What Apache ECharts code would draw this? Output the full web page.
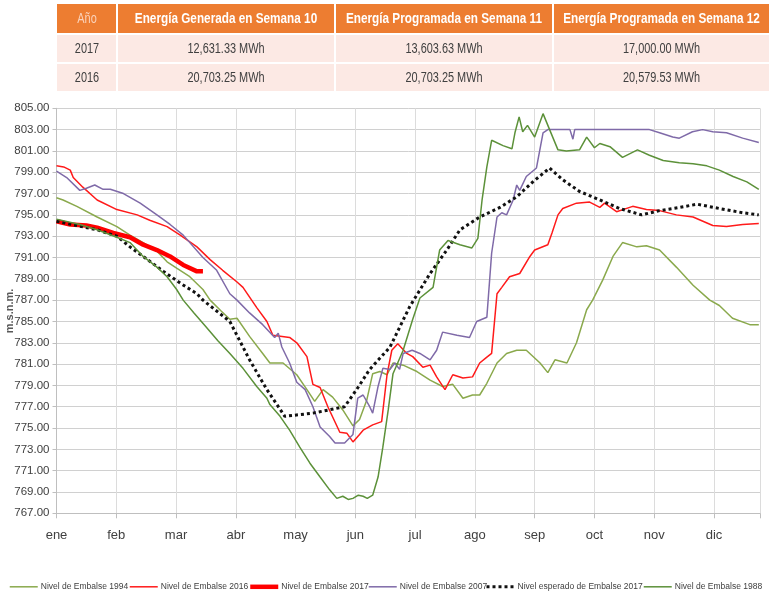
<!DOCTYPE html>
<html>
<head>
<meta charset="utf-8">
<script src="https://cdn.jsdelivr.net/npm/echarts@6/dist/echarts.min.js"></script>
<style>
  html, body { margin: 0; padding: 0; background: #fff; }
  #chart { width: 770px; height: 600px; }
</style>
</head>
<body>
<div id="chart"></div>
<script>
// meses del eje x (0 = 1 de enero)
const months = ['ene', 'feb', 'mar', 'abr', 'may', 'jun', 'jul', 'ago', 'sep', 'oct', 'nov', 'dic'];

// tabla de energia
const tableHeader = ['Año', 'Energía Generada en Semana 10', 'Energía Programada en Semana 11', 'Energía Programada en Semana 12'];
const tableRows = [
  ['2017', '12,631.33 MWh', '13,603.63 MWh', '17,000.00 MWh'],
  ['2016', '20,703.25 MWh', '20,703.25 MWh', '20,579.53 MWh']
];

// niveles de embalse [mes, m.s.n.m.]
const nivel1994 = [[0,796.6],[0.11,796.4],[0.34,795.8],[0.68,794.8],[1.01,793.9],[1.23,793.1],[1.45,792.4],[1.68,791.6],[1.85,790.6],[2.01,790.0],[2.23,789.2],[2.45,788.0],[2.57,787.0],[2.75,786.0],[2.9,785.2],[3.02,785.3],[3.23,783.6],[3.45,782.0],[3.57,781.1],[3.79,781.1],[4.02,780.0],[4.19,778.6],[4.32,777.5],[4.46,778.6],[4.62,777.9],[4.79,776.7],[4.96,775.2],[5.07,775.8],[5.19,777.6],[5.29,780.1],[5.41,780.3],[5.53,780.0],[5.63,781.1],[5.8,780.9],[6.03,780.3],[6.25,779.5],[6.46,778.9],[6.63,779.1],[6.8,777.8],[6.96,778.1],[7.08,778.1],[7.2,779.2],[7.37,781.1],[7.53,782.0],[7.7,782.3],[7.86,782.3],[8.09,781.1],[8.22,780.2],[8.34,781.4],[8.54,781.1],[8.7,783.0],[8.87,786.1],[8.97,787.0],[9.14,788.9],[9.31,791.1],[9.47,792.4],[9.71,792.0],[9.87,792.1],[10.09,791.7],[10.37,790.1],[10.65,788.4],[10.93,787.0],[11.09,786.5],[11.31,785.3],[11.6,784.7],[11.75,784.7]];
const nivel2016 = [[0,799.6],[0.12,799.5],[0.23,799.2],[0.28,798.5],[0.44,797.6],[0.68,796.4],[1.01,795.5],[1.35,795.0],[1.56,794.5],[1.85,793.9],[2.07,793.1],[2.35,792.0],[2.57,790.8],[2.78,789.8],[3.02,788.7],[3.12,788.2],[3.35,786.3],[3.52,785.0],[3.62,783.7],[3.9,783.5],[4.02,783.0],[4.19,781.7],[4.29,779.1],[4.41,778.8],[4.54,777.0],[4.74,774.6],[4.86,774.5],[4.96,773.7],[5.07,774.4],[5.13,774.8],[5.29,775.3],[5.44,775.6],[5.53,780.0],[5.61,782.3],[5.71,782.9],[5.86,782.0],[5.96,781.7],[6.13,780.7],[6.25,780.9],[6.36,779.8],[6.5,778.6],[6.63,780.0],[6.8,779.7],[6.96,779.8],[7.08,781.1],[7.19,781.6],[7.28,782.0],[7.37,787.6],[7.45,788.2],[7.58,789.2],[7.75,789.5],[7.92,791.1],[8.0,791.7],[8.22,792.2],[8.29,793.3],[8.39,795.0],[8.47,795.6],[8.7,796.1],[8.92,796.2],[9.09,795.7],[9.17,796.1],[9.37,795.3],[9.64,795.8],[9.87,795.5],[10.09,795.4],[10.37,795.0],[10.65,794.8],[10.98,794.0],[11.21,793.9],[11.48,794.1],[11.75,794.2]];
const nivel2017 = [[0,794.4],[0.23,794.1],[0.5,794.0],[0.68,793.8],[0.95,793.3],[1.23,792.9],[1.45,792.2],[1.68,791.7],[1.9,791.1],[2.12,790.3],[2.35,789.7],[2.45,789.7]];
const nivel2007 = [[0,799.1],[0.17,798.5],[0.39,797.3],[0.5,797.5],[0.64,797.8],[0.78,797.4],[0.9,797.4],[1.12,797.0],[1.4,796.1],[1.68,795.0],[1.9,794.1],[2.12,793.1],[2.45,791.0],[2.68,789.8],[2.9,787.6],[3.02,787.0],[3.23,785.8],[3.45,784.7],[3.65,783.5],[3.71,783.9],[3.77,782.6],[3.9,781.1],[4.02,779.3],[4.16,778.6],[4.29,777.0],[4.41,775.1],[4.57,774.2],[4.66,773.6],[4.82,773.6],[4.96,774.4],[5.04,777.8],[5.13,778.1],[5.24,777.0],[5.29,776.4],[5.38,778.9],[5.46,780.6],[5.58,780.5],[5.66,781.1],[5.74,780.5],[5.8,782.0],[5.95,782.3],[6.08,782.0],[6.25,781.4],[6.36,782.3],[6.46,784.0],[6.7,783.7],[6.91,783.5],[7.03,785.0],[7.2,785.4],[7.28,791.4],[7.37,794.8],[7.45,795.2],[7.53,795.0],[7.64,796.4],[7.7,797.8],[7.75,797.3],[7.86,798.6],[8.03,799.4],[8.14,802.7],[8.22,803.0],[8.59,803.0],[8.64,802.1],[8.67,803.0],[9.26,803.0],[9.92,803.0],[10.09,802.7],[10.31,802.3],[10.42,802.2],[10.64,802.8],[10.81,803.0],[10.98,802.8],[11.21,802.7],[11.48,802.2],[11.75,801.8]];
const esperado2017 = [[0,794.4],[0.68,793.6],[1.01,793.0],[1.23,792.0],[1.45,791.1],[1.79,789.7],[2.07,788.6],[2.35,787.6],[2.45,787.0],[2.9,785.0],[3.23,781.4],[3.52,778.6],[3.82,776.1],[4.29,776.4],[4.82,777.0],[5.02,778.6],[5.24,780.5],[5.58,782.6],[5.91,786.4],[6.25,789.5],[6.53,791.7],[6.75,793.6],[7.08,794.8],[7.42,795.7],[7.7,796.7],[7.97,798.1],[8.25,799.4],[8.47,798.3],[8.75,797.2],[9.09,796.4],[9.42,795.6],[9.79,795.0],[10.09,795.4],[10.42,795.7],[10.72,796.0],[11.09,795.6],[11.48,795.2],[11.75,795.0]];
const nivel1988 = [[0,794.6],[0.39,794.1],[0.68,793.6],[1.01,792.9],[1.23,792.4],[1.45,791.1],[1.68,790.1],[1.85,789.2],[2.01,788.0],[2.12,787.0],[2.3,785.8],[2.5,784.5],[2.7,783.2],[2.9,782.0],[3.12,780.6],[3.35,778.9],[3.52,777.8],[3.57,777.2],[3.74,776.1],[3.9,774.8],[4.07,773.2],[4.24,771.7],[4.41,770.4],[4.57,769.2],[4.69,768.4],[4.79,768.6],[4.88,768.3],[4.96,768.4],[5.05,768.7],[5.13,768.6],[5.2,768.4],[5.29,768.7],[5.38,770.4],[5.46,773.2],[5.55,776.7],[5.63,780.1],[5.8,782.3],[5.96,785.2],[6.08,787.2],[6.3,788.2],[6.41,791.7],[6.55,792.6],[6.75,792.2],[6.95,791.9],[7.05,792.8],[7.12,796.4],[7.2,799.5],[7.28,802.0],[7.47,801.5],[7.62,801.2],[7.67,802.7],[7.74,804.2],[7.8,802.8],[7.88,803.4],[8.0,802.3],[8.14,804.5],[8.25,803.0],[8.39,801.1],[8.53,801.0],[8.75,801.1],[8.87,802.3],[9.0,801.3],[9.09,801.7],[9.26,801.4],[9.47,800.4],[9.72,801.1],[9.92,800.6],[10.15,800.1],[10.42,799.9],[10.65,799.8],[10.88,799.6],[11.09,799.2],[11.32,798.6],[11.55,798.1],[11.75,797.4]];

const font = "'Liberation Sans', Arial, sans-serif";

// tabla dibujada como graphic (texto condensado con scaleX)
const colX = [57, 117, 335, 553, 770];
const rowY = [4, 35, 64, 93];
const tableGraphic = [];
for (let r = 0; r < 3; r++) {
  for (let c = 0; c < 4; c++) {
    const x0 = colX[c] + (c > 0 ? 1 : 0);
    const y0 = rowY[r];
    const w = colX[c + 1] - x0 - 1;
    const h = rowY[r + 1] - y0 - 2;
    tableGraphic.push({
      type: 'rect', silent: true,
      shape: {x: x0, y: y0, width: w, height: h},
      style: {fill: r === 0 ? '#ED7D31' : '#FCE9E4'}
    });
    const txt = r === 0 ? tableHeader[c] : tableRows[r - 1][c];
    const bold = r === 0 && c > 0;
    tableGraphic.push({
      type: 'text', silent: true,
      x: (colX[c] + colX[c + 1]) / 2, y: y0 + h / 2 + 1,
      scaleX: bold ? 0.84 : 0.78,
      style: {
        text: txt, align: 'center', verticalAlign: 'middle',
        font: (bold ? 'bold ' : '') + '14px ' + font,
        fill: r === 0 ? (c === 0 ? '#FAD3BC' : '#ffffff') : '#404040'
      }
    });
  }
}
// titulo del eje y
tableGraphic.push({
  type: 'text', silent: true,
  x: 10, y: 311, rotation: Math.PI / 2,
  style: {
    text: 'm.s.n.m.', align: 'center', verticalAlign: 'middle',
    font: 'bold 11px ' + font, fill: '#595959'
  }
});

const chart = echarts.init(document.getElementById('chart'));

const legendPos = [9, 129, 248, 368, 485, 643];
const names = ['Nivel de Embalse 1994', 'Nivel de Embalse 2016', 'Nivel de Embalse 2017', 'Nivel de Embalse 2007', 'Nivel esperado de Embalse 2017', 'Nivel de Embalse 1988'];
const legendWidth = [1.5, 1.5, 4.5, 1.5, 3, 1.5];

const mkLine = (name, data, color, width, type) => ({
  name: name,
  type: 'line',
  data: data,
  symbol: 'none',
  showSymbol: false,
  smooth: false,
  lineStyle: {color: color, width: width, type: type || 'solid', cap: 'butt'},
  itemStyle: {color: color}
});

const option = {
  animation: false,
  backgroundColor: '#ffffff',
  graphic: tableGraphic,
  legend: names.map((n, i) => ({
    data: [n],
    left: legendPos[i],
    top: 582,
    itemWidth: 28,
    itemHeight: 12,
    itemGap: 4,
    padding: 0,
    itemStyle: {opacity: 0},
    lineStyle: {width: legendWidth[i]},
    textStyle: {fontFamily: font, fontSize: 8.5, color: '#404040', padding: [0, 0, 0, -2]}
  })),
  grid: {left: 56.5, right: 10, top: 108.3, bottom: 86.7, containLabel: false, outerBoundsMode: 'none'},
  xAxis: {
    type: 'value',
    min: 0,
    max: 11.77,
    interval: 1,
    axisLine: {lineStyle: {color: '#bfbfbf'}},
    axisTick: {show: true, length: 5, lineStyle: {color: '#bfbfbf'}},
    splitLine: {show: true, lineStyle: {color: '#dcdcdc'}},
    axisLabel: {
      margin: 16,
      fontFamily: font,
      fontSize: 13,
      color: '#404040',
      formatter: (v) => Number.isInteger(v) ? months[v] : ''
    }
  },
  yAxis: {
    type: 'value',
    min: 767,
    max: 805,
    interval: 2,
    axisLine: {show: true, lineStyle: {color: '#bfbfbf'}},
    axisTick: {show: true, length: 4, lineStyle: {color: '#bfbfbf'}},
    splitLine: {lineStyle: {color: '#d0d0d0'}},
    axisLabel: {
      margin: 7,
      fontFamily: font,
      fontSize: 11.5,
      color: '#404040',
      formatter: (v) => v.toFixed(2)
    }
  },
  series: [
    mkLine(names[0], nivel1994, '#8aa94c', 1.5),
    mkLine(names[1], nivel2016, '#ff1a1a', 1.5),
    mkLine(names[2], nivel2017, '#ff0000', 4.5),
    mkLine(names[3], nivel2007, '#7f6aa8', 1.5),
    mkLine(names[4], esperado2017, '#111111', 3, [3, 3]),
    mkLine(names[5], nivel1988, '#5c9139', 1.5)
  ]
};

chart.setOption(option);
</script>
</body>
</html>
